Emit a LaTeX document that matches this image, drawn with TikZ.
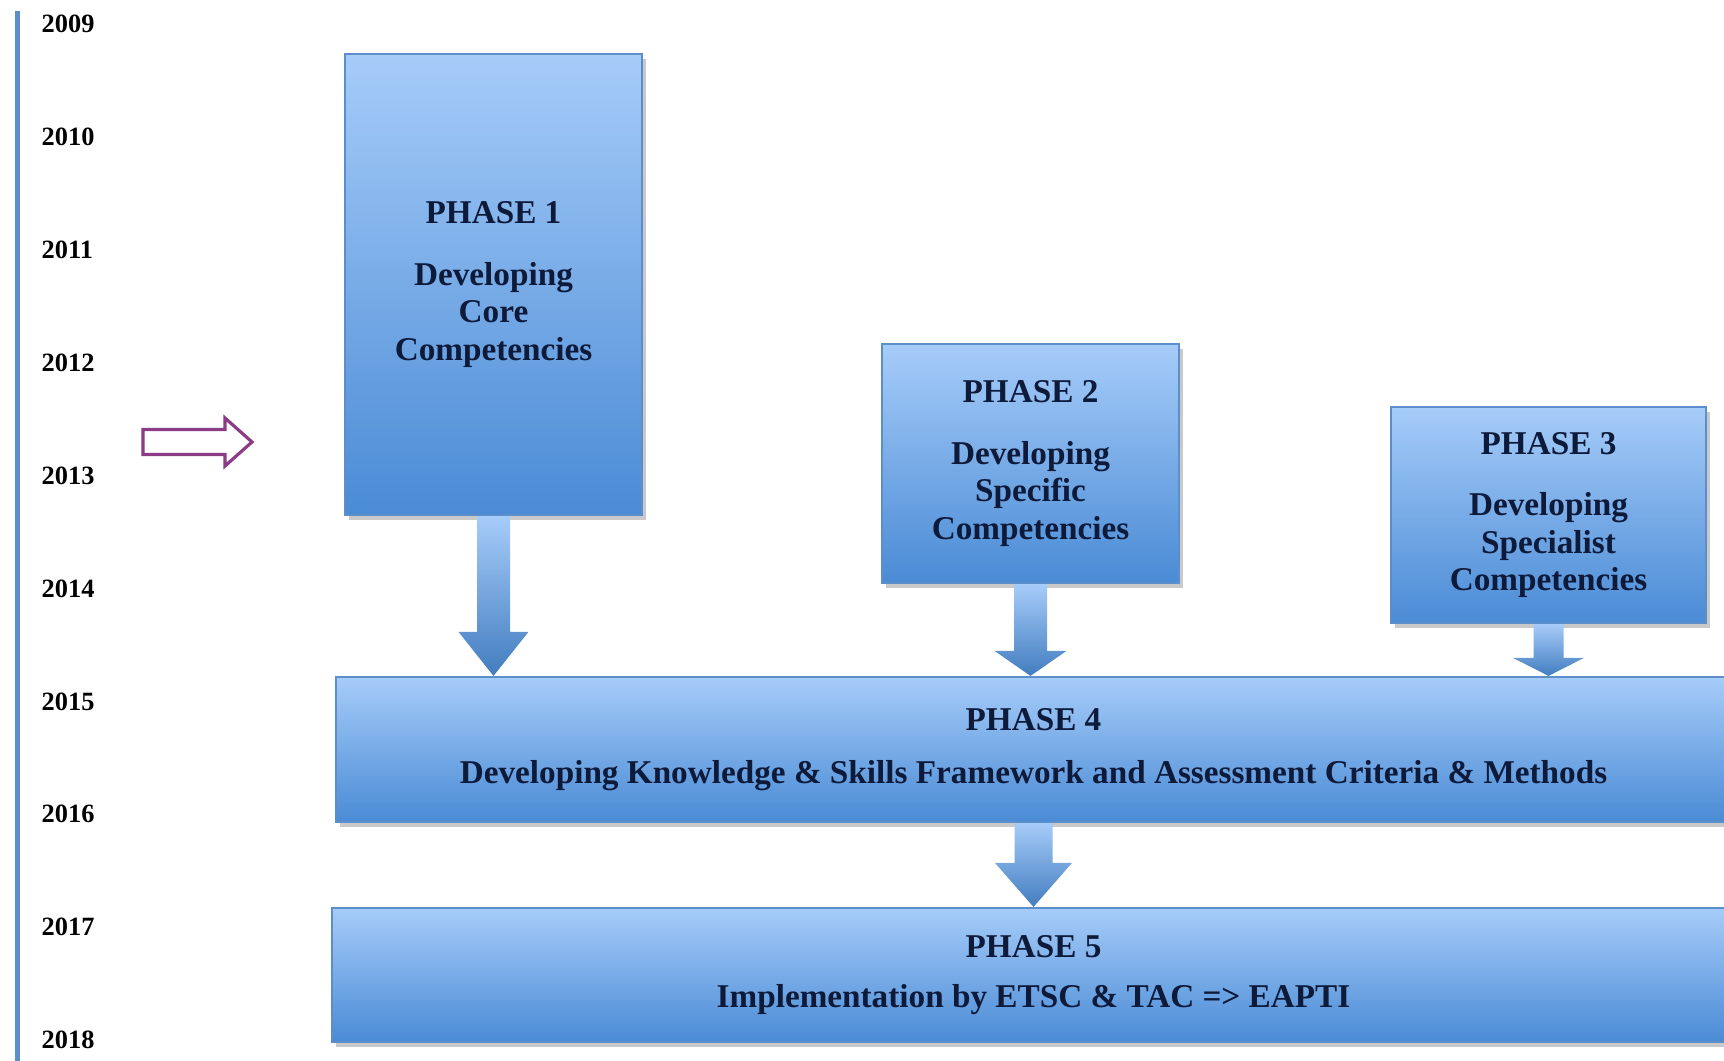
\documentclass[tikz,border=0pt]{standalone}
\usepackage{fontspec}
\setmainfont{Liberation Serif}
\usepackage{tikz}
\usetikzlibrary{positioning,calc,shadows}

\definecolor{boxtop}{HTML}{A6CCF9}
\definecolor{boxbot}{HTML}{4A8BD5}
\definecolor{boxline}{HTML}{5C8FC9}
\definecolor{navy}{HTML}{0E1A3A}
\definecolor{plum}{HTML}{8B3C84}

\tikzset{
  phasebox/.style={draw=boxline, line width=0.6pt, top color=boxtop, bottom color=boxbot,
    inner sep=0pt, align=center, text=navy, font=\fontsize{9.45}{10.7}\selectfont\bfseries,
    drop shadow={shadow xshift=1.2pt, shadow yshift=-1.5pt, opacity=0.3, fill=black!70}},
  yearlabel/.style={anchor=west, inner sep=0pt, font=\fontsize{7.5}{9}\selectfont\bfseries},
}

% fat down arrow: from, to, shaft half width, head half width, head length
\newcommand{\fatarrow}[5]{%
  \shade[top color=boxtop, bottom color=boxbot!90!black]
    ($(#1.south)+(-#3,0)$) -- ($(#1.south |- #2.north)+(-#3,-#5)$)
    -- ($(#1.south |- #2.north)+(-#4,-#5)$) -- (#1.south |- #2.north)
    -- ($(#1.south |- #2.north)+(#4,-#5)$) -- ($(#1.south |- #2.north)+(#3,-#5)$)
    -- ($(#1.south)+(#3,0)$) -- cycle;}

\begin{document}
\begin{tikzpicture}[x=0.01cm, y=-0.01cm]
    \useasboundingbox (0,0) rectangle (1724,1061);

    % time line
    \draw [boxline, line width=1.25pt] (17.6,11) -- (17.6,1061);
    \foreach \yr [count=\i from 0] in {2009,...,2018}
        \node [yearlabel] (y\yr) at (41, {24+112.9*\i}) {\yr};

    % we are here
    \draw [plum, line width=0.9pt, fill=white] (143,429.5) -- (225,429.5) -- (225,418) -- (252,442)
        -- (225,466) -- (225,454.5) -- (143,454.5) -- cycle;

    % phases
    \node [phasebox, minimum width=2.97cm, minimum height=4.61cm] (p1) at (493.5,284.5)
        {PHASE 1\\[6.8pt]Developing\\Core\\Competencies};
    \node [phasebox, minimum width=2.97cm, minimum height=2.39cm] (p2) at (1030.5,463.5)
        {PHASE 2\\[6.8pt]Developing\\Specific\\Competencies};
    \node [phasebox, minimum width=3.15cm, minimum height=2.16cm] (p3) at (1548.5,515)
        {PHASE 3\\[6.8pt]Developing\\Specialist\\Competencies};
    \node [phasebox, minimum width=13.95cm, minimum height=1.45cm] (p4) at (1033.5,749.5)
        {PHASE 4\\[4.4pt]Developing Knowledge \& Skills Framework and Assessment Criteria \& Methods};
    \node [phasebox, minimum width=14.03cm, minimum height=1.34cm] (p5) at (1033.5,975)
        {PHASE 5\\[3.7pt]Implementation by ETSC \& TAC => EAPTI};

    \fatarrow{p1}{p4}{16.5}{35}{44}
    \fatarrow{p2}{p4}{16.5}{36}{25}
    \fatarrow{p3}{p4}{15}{35.5}{18}
    \fatarrow{p4}{p5}{19}{38.5}{44}
\end{tikzpicture}
\end{document}
